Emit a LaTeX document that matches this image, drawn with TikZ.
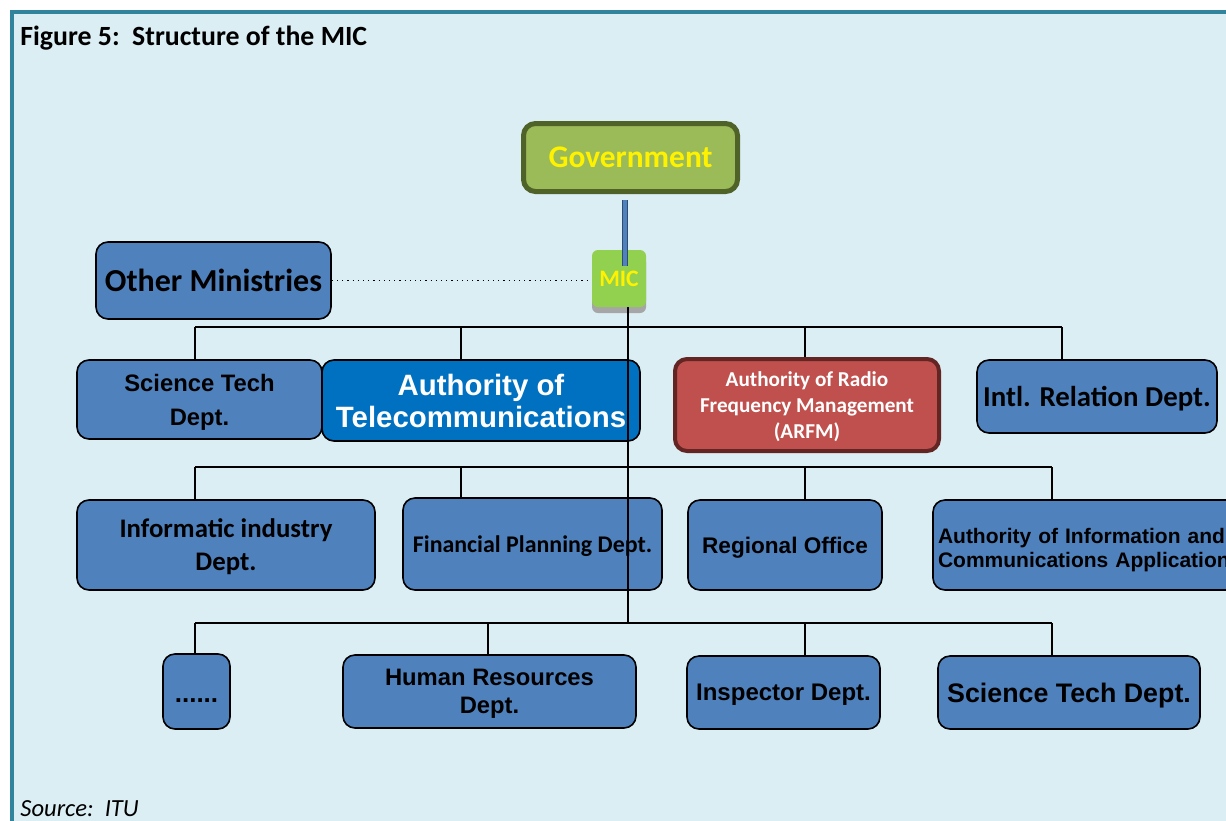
\documentclass[tikz,border=0pt]{standalone}
\usepackage{fontspec}
\setmainfont{Carlito}
\newfontfamily\arialfont{Liberation Sans}
\usetikzlibrary{calc,shadows}

\definecolor{bgblue}{HTML}{DBEEF4}
\definecolor{frameteal}{HTML}{31849B}
\definecolor{deptblue}{HTML}{4F81BD}
\definecolor{telblue}{HTML}{0070C0}
\definecolor{arfmred}{HTML}{C0504D}
\definecolor{arfmdark}{HTML}{632523}
\definecolor{govgreen}{HTML}{9BBB59}
\definecolor{govdark}{HTML}{4F6228}
\definecolor{micgreen}{HTML}{92D050}

\begin{document}
\begin{tikzpicture}[x=0.5pt,y=-0.5pt,
    dept/.style={draw=black,line width=0.8pt,fill=deptblue,rounded corners=6pt,inner sep=0pt,align=center,text depth=0pt},
    bus/.style={line width=0.9pt},
    govlink/.style={draw=deptblue!60!black,double=deptblue,double distance=2pt,line width=0.4pt}]

    \useasboundingbox (0,0) rectangle (1226,820);
    \fill[bgblue] (10,10) rectangle (1240,830);
    \draw[frameteal,line width=2pt] (12,830) -- (12,12) -- (1240,12);

    \node[anchor=base west,inner sep=0pt,font=\fontsize{13.9}{16}\selectfont\bfseries] at (20,45) (title) {Figure 5:\ \ Structure of the MIC};
    \node[anchor=base west,inner sep=0pt,font=\fontsize{12.3}{14}\selectfont\itshape] at (20,816) (source) {Source:\ \ ITU};

    % top of the chart
    \node[draw=govdark,line width=2.5pt,fill=govgreen,rounded corners=6pt,minimum width=107pt,minimum height=34pt,text=yellow,font=\fontsize{15.7}{18}\selectfont\bfseries] at (630.5,157.5) (gov) {Government};
    \node[fill=micgreen,rounded corners=3pt,minimum width=27pt,minimum height=28.5pt,inner sep=0pt,text=yellow,font=\fontsize{11.8}{14}\selectfont\bfseries,
          drop shadow={shadow xshift=0pt,shadow yshift=-3pt,fill=black!35,opacity=1}] at (619,278.5) (mic) {MIC};
    \node[dept,minimum width=117.5pt,minimum height=38.5pt,font=\fontsize{16}{19}\selectfont\bfseries] at (213.5,280.5) (other) {Other Ministries};

    % first row
    \node[dept,minimum width=122.5pt,minimum height=39.5pt,font=\arialfont\fontsize{11.9}{17}\selectfont\bfseries] at (199.5,399.5) (sci1) {Science Tech\\Dept.};
    \node[dept,fill=telblue,text=white,minimum width=159pt,minimum height=40.5pt,font=\arialfont\fontsize{14.7}{16}\selectfont\bfseries] at (481,400.5) (tel) {Authority of\\Telecommunications};
    \node[dept,draw=arfmdark,line width=2pt,fill=arfmred,text=white,minimum width=132pt,minimum height=46pt,font=\fontsize{10.6}{13}\selectfont\bfseries] at (807,405) (arfm) {Authority of Radio\\Frequency Management\\(ARFM)};
    \node[dept,minimum width=120pt,minimum height=36.5pt,font=\fontsize{14.4}{17}\selectfont\bfseries] at (1097,396.5) (intl) {Intl. Relation Dept.};

    % second row
    \node[dept,minimum width=149pt,minimum height=45pt,font=\fontsize{13.4}{16.5}\selectfont\bfseries] at (226,545) (info) {Informatic industry\\Dept.};
    \node[dept,minimum width=129.5pt,minimum height=46pt,font=\fontsize{11.95}{14}\selectfont\bfseries] at (532.5,544) (fin) {Financial Planning Dept.};
    \node[dept,minimum width=97pt,minimum height=45pt,font=\arialfont\fontsize{11.3}{13}\selectfont\bfseries] at (785,545) (reg) {Regional Office};
    \node[dept,minimum width=156pt,minimum height=45pt,text width=151pt,text depth=9.5pt,align=left,font=\arialfont\fontsize{10.5}{12}\selectfont\bfseries] at (1089,545) (aica) {Authority of Information and\\Communications Application};

    % third row
    \node[dept,minimum width=33.5pt,minimum height=37.5pt,font=\arialfont\fontsize{13}{15}\selectfont\bfseries] at (196.5,691.5) (dots) {\strut......};
    \node[dept,minimum width=146.5pt,minimum height=36.5pt,font=\arialfont\fontsize{11.9}{14}\selectfont\bfseries] at (489.5,691.5) (hr) {Human Resources\\Dept.};
    \node[dept,minimum width=96.5pt,minimum height=36.5pt,font=\arialfont\fontsize{12}{14}\selectfont\bfseries] at (783.5,692.5) (insp) {Inspector Dept.};
    \node[dept,minimum width=131pt,minimum height=36.5pt,font=\arialfont\fontsize{13.4}{15}\selectfont\bfseries] at (1069,692.5) (sci3) {Science Tech Dept.};

    % bus points
    \coordinate (b11) at (195,327);
    \coordinate (b12) at (461,327);
    \coordinate (b13) at (805,327);
    \coordinate (b14) at (1062,327);
    \coordinate (b21) at (195,467);
    \coordinate (b22) at (461,467);
    \coordinate (b23) at (805,467);
    \coordinate (b24) at (1052,467);
    \coordinate (b31) at (195,623);
    \coordinate (b32) at (488,623);
    \coordinate (b33) at (805,623);
    \coordinate (b34) at (1052,623);
    \coordinate (trunk) at (628,623);

    \draw[dotted,line width=0.6pt] (other.east) -- (other.east -| mic.west);
    \draw[govlink] ($(gov.south)+(-5.5,6)$) -- ($(mic.north)+(6,16)$);
    \draw[bus] (mic.south -| trunk) -- (trunk);

    \draw[bus] (b11) -- (b14);
    \draw[bus] (b11) -- (b11 |- sci1.north);
    \draw[bus] (b12) -- (b12 |- tel.north);
    \draw[bus] (b13) -- (b13 |- arfm.north);
    \draw[bus] (b14) -- (b14 |- intl.north);

    \draw[bus] (b21) -- (b24);
    \draw[bus] (b21) -- (b21 |- info.north);
    \draw[bus] (b22) -- (b22 |- fin.north);
    \draw[bus] (b23) -- (b23 |- reg.north);
    \draw[bus] (b24) -- (b24 |- aica.north);

    \draw[bus] (b31) -- (b34);
    \draw[bus] (b31) -- (b31 |- dots.north);
    \draw[bus] (b32) -- (b32 |- hr.north);
    \draw[bus] (b33) -- (b33 |- insp.north);
    \draw[bus] (b34) -- (b34 |- sci3.north);
\end{tikzpicture}
\end{document}
